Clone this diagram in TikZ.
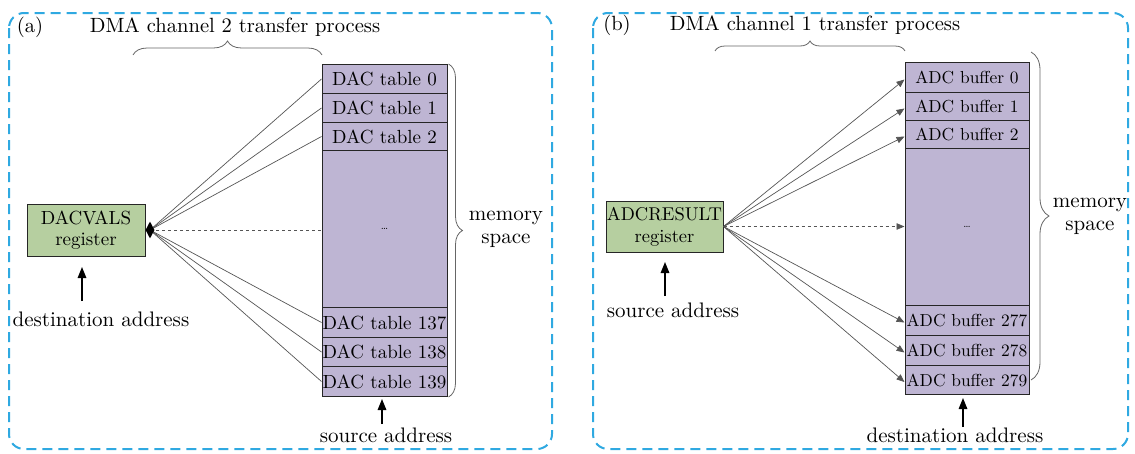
\documentclass[tikz,border=0pt]{standalone}
\usepackage{fontspec}
\setmainfont{lmroman10-regular.otf}
\usetikzlibrary{decorations.pathreplacing,arrows.meta,shapes.geometric}
\definecolor{panelblue}{HTML}{2FA9E1}
\definecolor{cellpurple}{HTML}{BEB5D3}
\definecolor{reggreen}{HTML}{B6CFA0}
\definecolor{wiregray}{HTML}{555555}
\begin{document}
\begin{tikzpicture}[x=1pt,y=-1pt,
  panel/.style={draw=panelblue, line width=2pt, dash pattern=on 10pt off 6pt, rounded corners=15pt},
  cell/.style={draw=black!85, fill=cellpurple, line width=1pt, inner sep=0pt, anchor=north},
  dacfont/.style={font=\fontsize{19}{21}\selectfont},
  adcfont/.style={font=\fontsize{17.4}{20}\selectfont},
  reg/.style={draw=black!85, fill=reggreen, line width=1pt, inner sep=0pt, align=center},
  wire/.style={draw=wiregray, line width=0.7pt},
  wirearrow/.style={wire, -{Triangle[length=8pt,width=6.5pt]}},
  brc/.style={draw=black!60, line width=0.8pt, decorate, decoration={brace, amplitude=#1}},
  addr/.style={-{Triangle[length=11pt,width=8.5pt]}, line width=1.5pt},
  lbl/.style={inner sep=0pt, font=\fontsize{21}{23}\selectfont},
  ttl/.style={inner sep=0pt, anchor=base, font=\fontsize{20.6}{23}\selectfont}
]
\useasboundingbox (0,0) rectangle (1135,453);

% ---------- panel (a): DMA channel 2 ----------
\draw[panel] (9,13) rectangle (552,449);
\node[ttl] (tagA) at (30,32) {(a)};
\node[ttl] (titleA) at (235,32) {DMA channel 2 transfer process};

% DAC table memory column
\begin{scope}[every node/.style={cell, dacfont, minimum width=125pt}]
  \node[minimum height=29pt]  (d0)   at (384.5,64)  {DAC table 0};
  \node[minimum height=29pt]  (d1)   at (384.5,93)  {DAC table 1};
  \node[minimum height=28pt]  (d2)   at (384.5,122) {DAC table 2};
  \node[minimum height=157pt] (dm)   at (384.5,150) {\fontsize{11}{11}\selectfont\dots};
  \node[minimum height=30pt]  (d137) at (384.5,307) {DAC table 137};
  \node[minimum height=29pt]  (d138) at (384.5,337) {DAC table 138};
  \node[minimum height=30pt]  (d139) at (384.5,366) {DAC table 139};
\end{scope}

\node[reg, dacfont, minimum width=118pt, minimum height=52pt] (dacreg) at (86,230) {DACVALS\\register};
\coordinate (dacpt) at (150,230);

% wires converging on the register
\foreach \r in {d0,d1,d2,d137,d138,d139}
  \draw[wire] (dacpt) -- (\r.west);
\draw[wire, dashed] (dacpt) -- (dacpt -| dm.west);
\node[diamond, fill=black, minimum width=9pt, minimum height=17pt, inner sep=0pt] (dacdia) at (dacpt) {};

% braces
\draw[brc=14pt] (133,55) -- (322,55);
\draw[brc=14pt] ([xshift=1pt]d0.north east) -- ([xshift=1pt]d139.south east);
\node[lbl, align=center] (memA) at (506,229) {memory\\space};

% address labels
\node[lbl, anchor=base] (dstA) at (101,326) {destination address};
\coordinate (dacarrT) at (82,301);
\coordinate (dacarrH) at (82,267);
\draw[addr] (dacarrT) -- (dacarrH);
\node[lbl, anchor=base] (srcA) at (386,442) {source address};
\coordinate (tabarrT) at (382,424);
\coordinate (tabarrH) at (382,399);
\draw[addr] (tabarrT) -- (tabarrH);

% ---------- panel (b): DMA channel 1 ----------
\draw[panel] (593,13) rectangle (1128,449);
\node[ttl] (tagB) at (617,30) {(b)};
\node[ttl] (titleB) at (815,30) {DMA channel 1 transfer process};

% ADC buffer memory column
\begin{scope}[every node/.style={cell, adcfont, minimum width=124pt}]
  \node[minimum height=30pt]  (b0)   at (967,62)  {ADC buffer 0};
  \node[minimum height=28pt]  (b1)   at (967,92)  {ADC buffer 1};
  \node[minimum height=28pt]  (b2)   at (967,120) {ADC buffer 2};
  \node[minimum height=157pt] (bm)   at (967,148) {\fontsize{11}{11}\selectfont\dots};
  \node[minimum height=30pt]  (b277) at (967,305) {ADC buffer 277};
  \node[minimum height=30pt]  (b278) at (967,335) {ADC buffer 278};
  \node[minimum height=29pt]  (b279) at (967,365) {ADC buffer 279};
\end{scope}

\node[reg, font=\fontsize{18.5}{22}\selectfont, minimum width=117pt, minimum height=51pt] (adcreg) at (664.5,226.5) {ADCRESULT\\register};

% wires fanning out from the register
\foreach \r in {b0,b1,b2,b277,b278,b279}
  \draw[wirearrow] (adcreg.east) -- ([yshift=-2pt]\r.west);
\draw[wirearrow, dashed] (adcreg.east) -- (adcreg.east -| bm.west);

% braces
\draw[brc=10pt] (715,51) -- (905,51);
\coordinate (bbrT) at (1031,52);
\coordinate (bbrB) at (1031,380);
\draw[brc=18pt] (bbrT) -- (bbrB);
\node[lbl, align=center] (memB) at (1090,216) {memory\\space};

% address labels
\node[lbl, anchor=base] (srcB) at (673,317) {source address};
\coordinate (adcarrT) at (665,296);
\coordinate (adcarrH) at (665,262);
\draw[addr] (adcarrT) -- (adcarrH);
\node[lbl, anchor=base] (dstB) at (955,442) {destination address};
\coordinate (bufarrT) at (963,427);
\coordinate (bufarrH) at (963,398);
\draw[addr] (bufarrT) -- (bufarrH);
\end{tikzpicture}
\end{document}
